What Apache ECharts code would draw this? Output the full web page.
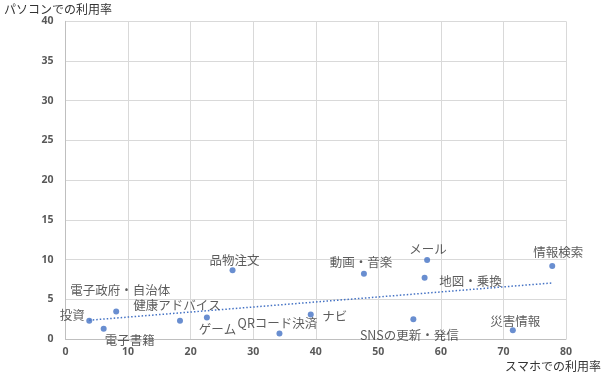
<!DOCTYPE html>
<html><head><meta charset="utf-8">
<script src="https://cdn.jsdelivr.net/npm/echarts@6/dist/echarts.min.js"></script>
<style>html,body{margin:0;padding:0;background:#fff}#c{width:605px;height:381px}</style>
</head><body><div id="c"></div>
<script>
const names = ['投資','電子書籍','電子政府・自治体','健康アドバイス','ゲーム','品物注文','QRコード決済','ナビ','動画・音楽','SNSの更新・発信','メール','地図・乗換','情報検索','災害情報'];
const smartphone = [3.8, 6.1, 8.1, 18.3, 22.6, 26.7, 34.2, 39.2, 47.7, 55.6, 57.8, 57.4, 77.8, 71.5];
const pc = [2.3, 1.3, 3.45, 2.3, 2.7, 8.65, 0.7, 3.1, 8.2, 2.5, 9.95, 7.7, 9.2, 1.1];
const xTicks = [0,10,20,30,40,50,60,70,80];
const yTicks = [0,5,10,15,20,25,30,35,40];
const xTitle = 'スマホでの利用率';
const yTitle = 'パソコンでの利用率';

// label offsets (label centre relative to point), styling only
const labelOffsets = {
  '投資':[-17,-5], '電子書籍':[26,12], '電子政府・自治体':[4,-21], '健康アドバイス':[-3,-15],
  'ゲーム':[10.5,12], '品物注文':[2,-10], 'QRコード決済':[-2,-10], 'ナビ':[24,2],
  '動画・音楽':[-3,-12], 'SNSの更新・発信':[-4,16], 'メール':[1,-10.5], '地図・乗換':[46,3],
  '情報検索':[6,-14], '災害情報':[2.5,-9]
};

// least squares trendline
const n = smartphone.length;
const mx = smartphone.reduce((a,b)=>a+b,0)/n;
const my = pc.reduce((a,b)=>a+b,0)/n;
let sxy=0, sxx=0;
for (let i=0;i<n;i++){ sxy += (smartphone[i]-mx)*(pc[i]-my); sxx += (smartphone[i]-mx)**2; }
const slope = sxy/sxx, icpt = my - slope*mx;
const xmin = Math.min(...smartphone), xmax = Math.max(...smartphone);
const trend = [[xmin, icpt+slope*xmin],[xmax, icpt+slope*xmax]];

const font = '"Noto Sans CJK JP", sans-serif';
const tickStyle = {fontSize:10.5, fontWeight:'bold', color:'#595959', fontFamily:'"Noto Sans", sans-serif'};

const chart = echarts.init(document.getElementById('c'), null, {renderer:'canvas'});
chart.setOption({
  animation:false,
  textStyle:{fontFamily:font},
  title:[
    {text:yTitle, left:4, top:3, padding:0, textStyle:{fontSize:12, fontWeight:'normal', color:'#333333', fontFamily:font}},
    {text:xTitle, right:4, top:360, padding:0, textStyle:{fontSize:12, fontWeight:'normal', color:'#333333', fontFamily:font}}
  ],
  grid:{left:65.5, right:39, top:21.3, bottom:42, containLabel:false},
  xAxis:{type:'value', min:xTicks[0], max:xTicks[xTicks.length-1], interval:xTicks[1]-xTicks[0],
    axisLine:{show:true, lineStyle:{color:'#bfbfbf'}}, axisTick:{show:false},
    splitLine:{show:true, lineStyle:{color:'#d9d9d9'}},
    axisLabel:Object.assign({margin:8}, tickStyle)},
  yAxis:{type:'value', min:yTicks[0], max:yTicks[yTicks.length-1], interval:yTicks[1]-yTicks[0],
    axisLine:{show:true, lineStyle:{color:'#bfbfbf'}}, axisTick:{show:false},
    splitLine:{show:true, lineStyle:{color:'#d9d9d9'}},
    axisLabel:Object.assign({margin:12}, tickStyle)},
  series:[
    {type:'line', data:trend, symbol:'none', silent:true,
      lineStyle:{color:'#4472C4', width:1.5, type:[1.5,2]}, z:1},
    {type:'scatter', symbolSize:6, itemStyle:{color:'#4472C4'}, z:3,
      data: names.map((nm,i)=>({value:[smartphone[i], pc[i]], name:nm,
        label:{show:true, position:'inside', offset:labelOffsets[nm], formatter:nm,
          fontSize:12.5, color:'#333333', fontFamily:font}}))}
  ]
});
</script></body></html>
